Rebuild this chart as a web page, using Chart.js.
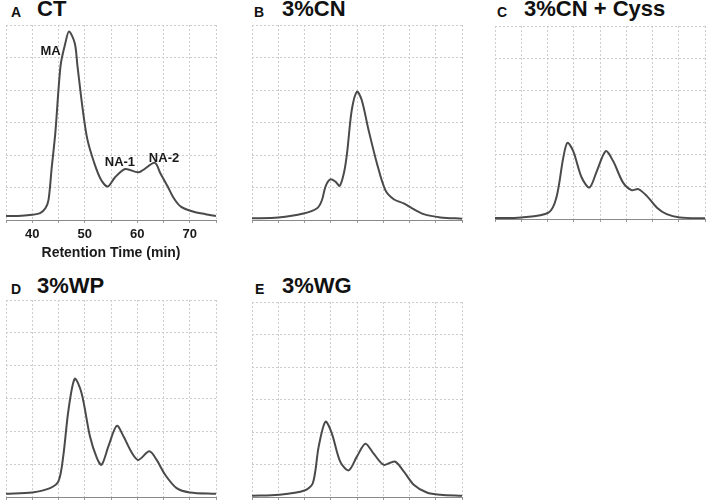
<!DOCTYPE html>
<html><head><meta charset="utf-8">
<script src="https://cdn.jsdelivr.net/npm/chart.js@4.4.1/dist/chart.umd.min.js"></script>
<style>
html,body{margin:0;padding:0;background:#fff;width:708px;height:503px;overflow:hidden;position:relative;font-family:"Liberation Sans",Arial,sans-serif;}
canvas{position:absolute;}
.t{position:absolute;font-weight:bold;color:#111;white-space:nowrap;}
.s{font-size:14px;line-height:14px;}
.b{font-size:22px;line-height:22px;}
</style></head><body>
<div class="t s" style="left:11px;top:4.6px">A</div><div class="t b" style="left:37px;top:-2px">CT</div>
<div class="t s" style="left:254px;top:4.6px">B</div><div class="t b" style="left:282px;top:-2px">3%CN</div>
<div class="t s" style="left:497px;top:4.6px">C</div><div class="t b" style="left:524px;top:-2px">3%CN + Cyss</div>
<div class="t s" style="left:11px;top:281.6px">D</div><div class="t b" style="left:37px;top:275px">3%WP</div>
<div class="t s" style="left:255px;top:281.6px">E</div><div class="t b" style="left:282px;top:275px">3%WG</div>
<script>
// ---- data ----
const xTickLabels = [40, 50, 60, 70];
const ctTime   = [35, 38, 40, 41.5, 42.5, 43.1, 43.7, 44.4, 45.4, 46.3, 47, 48.1, 48.6, 49.6, 50.5, 51.8, 53.1, 54.4, 55.7, 57.7, 60.3, 63.3, 64.4, 65.8, 67, 68.3, 70.6, 73, 75];
const ctSignal = [0.12, 0.13, 0.16, 0.21, 0.36, 0.62, 1.6, 2.69, 4.76, 5.44, 5.8, 5.44, 4.76, 3.42, 2.48, 1.76, 1.24, 1.03, 1.3, 1.57, 1.47, 1.76, 1.44, 1.03, 0.66, 0.41, 0.26, 0.18, 0.12];
const ctNoteText = ['MA', 'NA-1', 'NA-2'];
const ctNoteTime = [43.5, 56.7, 65.1];
const ctNoteLevel = [5.18, 1.77, 1.88];
const cnTime   = [35, 40, 44.8, 47.4, 48.3, 49, 49.9, 50.9, 51.7, 52.5, 53.1, 54, 55, 55.9, 57.2, 58.8, 60.4, 62, 63.9, 65.5, 67.7, 70.9, 75];
const cnSignal = [0.05, 0.08, 0.2, 0.36, 0.6, 1.03, 1.25, 1.18, 1.05, 1.44, 2.05, 3.38, 3.95, 3.69, 2.77, 1.74, 0.92, 0.64, 0.51, 0.36, 0.18, 0.08, 0.04];
const cyTime   = [35, 40, 45.2, 46.7, 48, 48.8, 49.9, 51.5, 53, 54.4, 56.1, 57.5, 59.4, 61, 62.3, 63.9, 65.8, 67.7, 70.2, 75];
const cySignal = [0.03, 0.05, 0.2, 0.67, 1.9, 2.37, 2.11, 1.29, 0.98, 1.49, 2.11, 1.8, 1.13, 0.9, 0.93, 0.72, 0.36, 0.15, 0.05, 0.02];
const wpTime   = [35, 40, 43.4, 45, 45.9, 46.9, 48.1, 49.4, 51, 52.3, 53.2, 54.5, 56.1, 57.4, 59, 60.2, 62.3, 63.7, 65.3, 67.5, 70, 75];
const wpSignal = [0.1, 0.14, 0.27, 0.48, 1.24, 2.65, 3.6, 3.16, 1.84, 1.19, 0.98, 1.54, 2.17, 1.84, 1.34, 1.13, 1.39, 1.13, 0.68, 0.27, 0.14, 0.1];
const wgTime   = [35, 40.1, 45, 46.6, 47.7, 49, 50.2, 51.8, 53.4, 55, 56.6, 58.1, 60.1, 62.2, 63.9, 65.8, 68.3, 70.9, 75];
const wgSignal = [0.04, 0.07, 0.2, 0.43, 1.55, 2.32, 1.96, 1.09, 0.82, 1.25, 1.64, 1.35, 0.99, 1.09, 0.79, 0.38, 0.14, 0.07, 0.04];

// ---- layout ----
const FONT = '"Liberation Sans", Arial, sans-serif';
const PAD = 4;
const panels = [
  {time: ctTime, signal: ctSignal, rect: [6, 25, 216, 220], labelled: true,
   notes: ctNoteText.map((t, i) => ({text: t, x: ctNoteTime[i], y: ctNoteLevel[i]}))},
  {time: cnTime, signal: cnSignal, rect: [252, 25, 462, 220]},
  {time: cyTime, signal: cySignal, rect: [495, 26, 705, 219]},
  {time: wpTime, signal: wpSignal, rect: [6, 300, 216, 497]},
  {time: wgTime, signal: wgSignal, rect: [252, 302, 462, 497]}
];

const notePlugin = {
  id: 'notes',
  afterDatasetsDraw(chart, args, opts) {
    const items = (opts && opts.items) || [];
    if (!items.length) return;
    const {ctx, scales: {x, y}} = chart;
    ctx.save();
    ctx.font = 'bold 13px ' + FONT;
    ctx.fillStyle = '#1a1a1a';
    ctx.textAlign = 'center';
    ctx.textBaseline = 'middle';
    items.forEach(n => ctx.fillText(n.text, x.getPixelForValue(n.x), y.getPixelForValue(n.y)));
    ctx.restore();
  }
};

panels.forEach(p => {
  const [L, T, R, B] = p.rect;
  const axisH = p.labelled ? 43 : 4;
  const c = document.createElement('canvas');
  c.width = (R - L) + 2 * PAD;
  c.height = (B - T) + axisH + 2 * PAD;
  c.style.left = (L - PAD) + 'px';
  c.style.top = (T - PAD) + 'px';
  document.body.appendChild(c);
  new Chart(c, {
    type: 'line',
    data: {datasets: [{
      data: p.time.map((t, i) => ({x: t, y: p.signal[i]})),
      borderColor: '#4a4a4a', borderWidth: 2, fill: false,
      pointRadius: 0, tension: 0.3
    }]},
    options: {
      responsive: false, animation: false, devicePixelRatio: 1,
      layout: {padding: PAD},
      plugins: {legend: {display: false}, tooltip: {enabled: false}, notes: {items: p.notes || []}},
      scales: {
        x: {
          type: 'linear', min: 35, max: 75,
          border: {display: true, color: '#8a8a8a', width: 1, dash: [2, 2]},
          grid: {color: '#cdcdcd', lineWidth: 1, drawTicks: true, tickLength: 3, tickColor: '#9a9a9a', tickBorderDash: []},
          ticks: {stepSize: 5, autoSkip: false, maxRotation: 0, display: !!p.labelled, padding: 4,
                  color: '#1a1a1a', font: {family: FONT, size: 13, weight: 'bold'},
                  callback: v => xTickLabels.includes(v) ? String(v) : ''},
          title: {display: !!p.labelled, text: 'Retention Time (min)', color: '#1a1a1a',
                  font: {family: FONT, size: 14, weight: 'bold'}, padding: {top: 0, bottom: 1}},
          afterFit: s => { s.height = axisH; }
        },
        y: {
          min: 0, max: 6,
          border: {display: false, dash: [2, 2]},
          grid: {color: '#cdcdcd', lineWidth: 1, drawTicks: false},
          ticks: {display: false, stepSize: 1}
        }
      }
    },
    plugins: [notePlugin]
  });
});
</script>
</body></html>
